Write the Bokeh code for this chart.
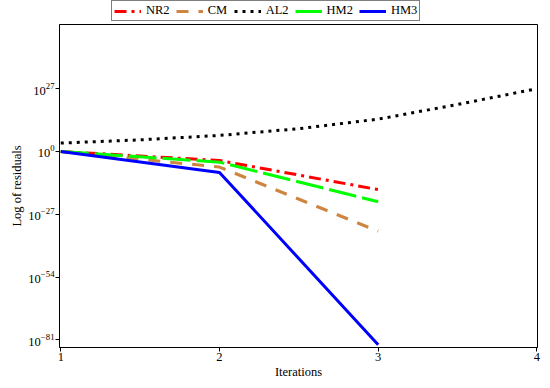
import numpy as np
from bokeh.plotting import figure
from bokeh.layouts import column
from bokeh.models import FixedTicker, Legend, LegendItem, Range1d
from bokeh.embed import file_html
from bokeh.resources import INLINE

# ---- data (log10 of residuals) ----
iterations = [1, 2, 3]
al2_iterations = [1, 1.5, 2, 2.5, 3, 3.5, 4]
nr2_exp = [0.0, -3.9, -16.4]
cm_exp = [0.0, -6.7, -34.3]
al2_exp = [3.6, 5.0, 6.9, 9.8, 13.9, 20.2, 27.0]
hm2_exp = [0.0, -4.6, -21.6]
hm3_exp = [0.0, -9.0, -83.1]
x_ticks = [1, 2, 3, 4]
y_tick_exponents = [-81, -54, -27, 0, 27]
series_names = ["NR2", "CM", "AL2", "HM2", "HM3"]

FONT = "Liberation Serif"
LEFT = 59
RIGHT = 5
W = LEFT + 478 + RIGHT
LEG_H = 22
MAIN_TOP = 2
MAIN_BOTTOM = 33
MAIN_H = MAIN_TOP + 324 + MAIN_BOTTOM

styles = {
    "NR2": dict(line_color="#FF0000", line_width=3, line_dash="12 5 3 5"),
    "CM": dict(line_color="#CD853F", line_width=3, line_dash="12 10"),
    "AL2": dict(line_color="black", line_width=3, line_dash="3 5"),
    "HM2": dict(line_color="#00FF00", line_width=3, line_dash="28 6"),
    "HM3": dict(line_color="#0000FF", line_width=3),
}

def vals(e):
    return list(10.0 ** np.array(e))

series_x = {"NR2": iterations, "CM": iterations, "AL2": al2_iterations,
            "HM2": iterations, "HM3": iterations}
series_y = {"NR2": vals(nr2_exp), "CM": vals(cm_exp), "AL2": vals(al2_exp),
            "HM2": vals(hm2_exp), "HM3": vals(hm3_exp)}

# ---------------- main plot ----------------
p = figure(width=W, height=MAIN_H, y_axis_type="log",
           x_range=Range1d(0.992, 4.004),
           y_range=Range1d(10 ** -84.3, 10 ** 54.6),
           output_backend="svg", toolbar_location=None,
           min_border_left=LEFT, min_border_right=RIGHT,
           min_border_top=MAIN_TOP, min_border_bottom=MAIN_BOTTOM)

p.grid.visible = False
p.outline_line_color = "black"
p.outline_line_width = 1
p.background_fill_color = "white"
p.border_fill_color = "white"

for n in ["AL2", "CM", "NR2", "HM2", "HM3"]:
    p.line(series_x[n], series_y[n], **styles[n])

p.xaxis.ticker = FixedTicker(ticks=x_ticks)
p.yaxis.ticker = FixedTicker(ticks=[10.0 ** e for e in y_tick_exponents])

for ax in (p.xaxis[0], p.yaxis[0]):
    ax.axis_line_color = "black"
    ax.major_tick_line_color = "black"
    ax.major_tick_out = 4
    ax.major_tick_in = 0
    ax.minor_tick_line_color = None
    ax.major_label_text_font = FONT
    ax.major_label_text_font_size = "12.5px"
    ax.major_label_text_color = "black"
    ax.major_label_standoff = 1
    ax.axis_label_text_font = FONT
    ax.axis_label_text_font_size = "12.5px"
    ax.axis_label_text_font_style = "normal"
    ax.axis_label_text_color = "black"
    ax.axis_label_standoff = 1

p.xaxis.axis_label = "Iterations"
p.yaxis.axis_label = "Log of residuals"

# ---------------- legend strip ----------------
# same series in a strip whose ranges show none of them; only its legend is visible
lf = figure(width=W, height=LEG_H, output_backend="svg", toolbar_location=None,
            x_axis_location=None, y_axis_location=None,
            x_range=Range1d(100, 101), y_range=Range1d(100, 101),
            min_border_left=LEFT, min_border_right=RIGHT,
            min_border_top=0, min_border_bottom=0)
lf.grid.visible = False
lf.outline_line_color = None
lf.border_fill_color = "white"
lf.background_fill_color = "white"

items = []
for n in series_names:
    r = lf.line(series_x[n], series_y[n], **styles[n])
    items.append(LegendItem(label=n, renderers=[r]))

legend = Legend(items=items, orientation="horizontal", location=(52, 1))
legend.label_text_font = FONT
legend.label_text_font_size = "12.5px"
legend.label_text_color = "black"
legend.glyph_width = 27
legend.glyph_height = 12
legend.label_height = 12
legend.label_standoff = 5
legend.spacing = 6
legend.padding = 2
legend.margin = 0
legend.border_line_color = "black"
legend.border_line_width = 1
legend.background_fill_color = "white"
legend.background_fill_alpha = 1.0
lf.add_layout(legend, "center")

layout = column(lf, p, spacing=0)
open("out.html", "w").write(file_html(layout, INLINE))
